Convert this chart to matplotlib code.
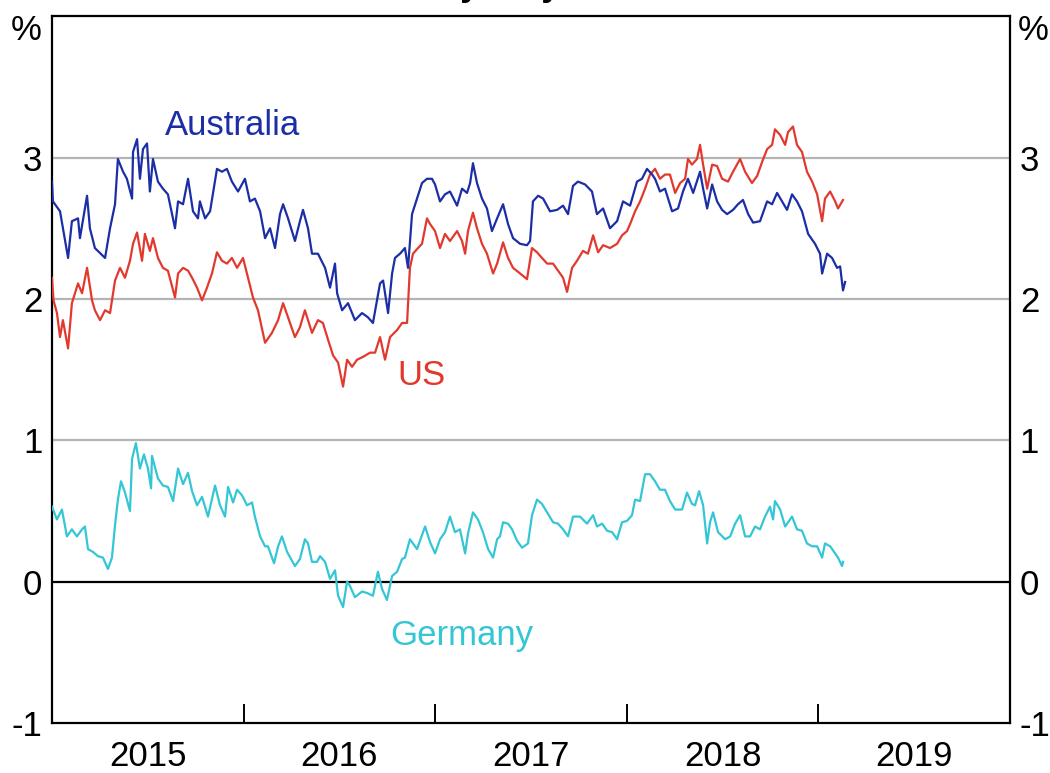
import matplotlib
matplotlib.use("Agg")
import matplotlib.pyplot as plt
from matplotlib.ticker import FixedLocator, NullFormatter

plt.rcParams['font.family'] = ['Liberation Sans', 'DejaVu Sans']

# dates as decimal years, yields in per cent
aus_t = [2015.000, 2015.005, 2015.042, 2015.084, 2015.104, 2015.136, 2015.146, 2015.183, 2015.198,
         2015.224, 2015.277, 2015.303, 2015.329, 2015.344, 2015.371, 2015.391, 2015.418, 2015.423,
         2015.444, 2015.459, 2015.475, 2015.496, 2015.511, 2015.527, 2015.553, 2015.579, 2015.605,
         2015.642, 2015.658, 2015.684, 2015.710, 2015.736, 2015.762, 2015.772, 2015.799, 2015.825,
         2015.861, 2015.887, 2015.913, 2015.939, 2015.971, 2016.007, 2016.033, 2016.059, 2016.086,
         2016.112, 2016.138, 2016.164, 2016.190, 2016.206, 2016.232, 2016.268, 2016.294, 2016.310,
         2016.336, 2016.357, 2016.388, 2016.425, 2016.451, 2016.477, 2016.488, 2016.514, 2016.545,
         2016.581, 2016.618, 2016.649, 2016.675, 2016.712, 2016.728, 2016.754, 2016.775, 2016.790,
         2016.816, 2016.842, 2016.858, 2016.879, 2016.905, 2016.931, 2016.957, 2016.983, 2016.999,
         2017.025, 2017.051, 2017.077, 2017.114, 2017.140, 2017.166, 2017.182, 2017.197, 2017.218,
         2017.244, 2017.270, 2017.296, 2017.323, 2017.354, 2017.380, 2017.406, 2017.443, 2017.479,
         2017.495, 2017.510, 2017.537, 2017.563, 2017.599, 2017.636, 2017.667, 2017.693, 2017.719,
         2017.745, 2017.782, 2017.818, 2017.844, 2017.876, 2017.912, 2017.949, 2017.980, 2018.017,
         2018.053, 2018.079, 2018.105, 2018.132, 2018.147, 2018.173, 2018.199, 2018.236, 2018.267,
         2018.293, 2018.319, 2018.346, 2018.382, 2018.398, 2018.419, 2018.445, 2018.471, 2018.497,
         2018.523, 2018.554, 2018.580, 2018.606, 2018.633, 2018.659, 2018.695, 2018.732, 2018.758,
         2018.784, 2018.810, 2018.836, 2018.862, 2018.888, 2018.914, 2018.946, 2018.982, 2019.008,
         2019.019, 2019.045, 2019.071, 2019.097, 2019.113, 2019.128, 2019.139]
aus_y = [2.83, 2.69, 2.62, 2.29, 2.55, 2.57, 2.43, 2.73, 2.50,
         2.36, 2.29, 2.50, 2.67, 2.99, 2.90, 2.85, 2.71, 3.04,
         3.13, 2.85, 3.06, 3.10, 2.76, 2.99, 2.83, 2.78, 2.74,
         2.50, 2.69, 2.67, 2.85, 2.62, 2.57, 2.69, 2.57, 2.62,
         2.92, 2.90, 2.92, 2.83, 2.76, 2.85, 2.69, 2.71, 2.62,
         2.43, 2.50, 2.36, 2.60, 2.67, 2.57, 2.41, 2.55, 2.63,
         2.50, 2.32, 2.32, 2.22, 2.08, 2.25, 2.04, 1.92, 1.97,
         1.85, 1.90, 1.87, 1.83, 2.11, 2.13, 1.90, 2.18, 2.29,
         2.32, 2.36, 2.22, 2.60, 2.71, 2.82, 2.85, 2.85, 2.81,
         2.69, 2.74, 2.76, 2.66, 2.78, 2.75, 2.82, 2.96, 2.82,
         2.71, 2.64, 2.48, 2.57, 2.67, 2.53, 2.43, 2.39, 2.38,
         2.41, 2.69, 2.73, 2.71, 2.62, 2.63, 2.66, 2.60, 2.80,
         2.83, 2.81, 2.76, 2.60, 2.64, 2.50, 2.55, 2.69, 2.66,
         2.83, 2.85, 2.92, 2.88, 2.85, 2.76, 2.78, 2.62, 2.64,
         2.76, 2.85, 2.75, 2.90, 2.78, 2.64, 2.81, 2.69, 2.63,
         2.60, 2.63, 2.67, 2.70, 2.60, 2.54, 2.55, 2.69, 2.67,
         2.75, 2.69, 2.63, 2.74, 2.69, 2.62, 2.46, 2.39, 2.32,
         2.18, 2.32, 2.29, 2.22, 2.23, 2.06, 2.12]

us_t = [2015.000, 2015.008, 2015.026, 2015.042, 2015.057, 2015.084, 2015.104, 2015.136, 2015.157,
        2015.183, 2015.209, 2015.224, 2015.251, 2015.277, 2015.303, 2015.329, 2015.355, 2015.381,
        2015.407, 2015.423, 2015.444, 2015.470, 2015.485, 2015.511, 2015.527, 2015.553, 2015.579,
        2015.605, 2015.642, 2015.658, 2015.684, 2015.710, 2015.731, 2015.757, 2015.783, 2015.809,
        2015.835, 2015.861, 2015.887, 2015.913, 2015.939, 2015.966, 2015.997, 2016.023, 2016.049,
        2016.075, 2016.112, 2016.148, 2016.180, 2016.206, 2016.232, 2016.268, 2016.294, 2016.320,
        2016.357, 2016.388, 2016.414, 2016.441, 2016.467, 2016.493, 2016.519, 2016.540, 2016.566,
        2016.592, 2016.623, 2016.660, 2016.686, 2016.712, 2016.738, 2016.764, 2016.801, 2016.827,
        2016.853, 2016.868, 2016.884, 2016.910, 2016.931, 2016.957, 2016.973, 2016.999, 2017.025,
        2017.051, 2017.077, 2017.114, 2017.140, 2017.156, 2017.171, 2017.197, 2017.218, 2017.244,
        2017.270, 2017.302, 2017.323, 2017.354, 2017.380, 2017.406, 2017.443, 2017.479, 2017.505,
        2017.531, 2017.557, 2017.584, 2017.615, 2017.641, 2017.667, 2017.688, 2017.714, 2017.740,
        2017.771, 2017.797, 2017.824, 2017.850, 2017.876, 2017.912, 2017.949, 2017.975, 2018.001,
        2018.017, 2018.043, 2018.069, 2018.095, 2018.121, 2018.147, 2018.173, 2018.199, 2018.225,
        2018.252, 2018.278, 2018.304, 2018.319, 2018.340, 2018.366, 2018.382, 2018.398, 2018.419,
        2018.445, 2018.471, 2018.497, 2018.528, 2018.554, 2018.591, 2018.617, 2018.653, 2018.680,
        2018.706, 2018.732, 2018.758, 2018.773, 2018.800, 2018.826, 2018.841, 2018.867, 2018.888,
        2018.914, 2018.940, 2018.967, 2018.993, 2019.019, 2019.034, 2019.061, 2019.087, 2019.102,
        2019.128]
us_y = [2.15, 1.99, 1.90, 1.73, 1.85, 1.65, 1.97, 2.11, 2.04,
        2.22, 1.99, 1.92, 1.85, 1.92, 1.90, 2.13, 2.22, 2.15,
        2.27, 2.39, 2.47, 2.27, 2.46, 2.34, 2.43, 2.29, 2.22,
        2.20, 2.01, 2.18, 2.22, 2.20, 2.15, 2.08, 1.99, 2.08,
        2.18, 2.33, 2.27, 2.25, 2.29, 2.22, 2.29, 2.15, 2.01,
        1.92, 1.69, 1.76, 1.85, 1.97, 1.87, 1.73, 1.80, 1.92,
        1.76, 1.85, 1.83, 1.71, 1.60, 1.55, 1.38, 1.57, 1.52,
        1.57, 1.59, 1.62, 1.62, 1.73, 1.57, 1.73, 1.78, 1.83,
        1.83, 2.22, 2.32, 2.36, 2.39, 2.57, 2.53, 2.48, 2.36,
        2.46, 2.41, 2.48, 2.41, 2.32, 2.48, 2.61, 2.50, 2.39,
        2.32, 2.18, 2.25, 2.40, 2.29, 2.22, 2.18, 2.14, 2.36,
        2.33, 2.29, 2.25, 2.25, 2.20, 2.15, 2.05, 2.22, 2.27,
        2.34, 2.32, 2.45, 2.33, 2.38, 2.36, 2.39, 2.45, 2.48,
        2.53, 2.62, 2.69, 2.78, 2.88, 2.92, 2.85, 2.88, 2.88,
        2.75, 2.82, 2.85, 2.99, 2.95, 2.99, 3.09, 2.95, 2.78,
        2.95, 2.94, 2.85, 2.83, 2.90, 2.99, 2.90, 2.82, 2.87,
        2.97, 3.06, 3.09, 3.20, 3.16, 3.09, 3.18, 3.22, 3.09,
        3.04, 2.90, 2.83, 2.74, 2.55, 2.71, 2.76, 2.69, 2.64,
        2.70]

ger_t = [2015.000, 2015.026, 2015.052, 2015.078, 2015.104, 2015.130, 2015.157, 2015.172, 2015.188,
         2015.214, 2015.240, 2015.266, 2015.292, 2015.313, 2015.329, 2015.344, 2015.360, 2015.381,
         2015.407, 2015.418, 2015.438, 2015.459, 2015.480, 2015.501, 2015.517, 2015.522, 2015.553,
         2015.579, 2015.605, 2015.632, 2015.658, 2015.684, 2015.710, 2015.731, 2015.757, 2015.783,
         2015.814, 2015.851, 2015.877, 2015.903, 2015.919, 2015.945, 2015.966, 2015.992, 2016.018,
         2016.044, 2016.059, 2016.086, 2016.112, 2016.127, 2016.159, 2016.180, 2016.200, 2016.227,
         2016.268, 2016.294, 2016.320, 2016.336, 2016.357, 2016.383, 2016.399, 2016.425, 2016.451,
         2016.477, 2016.493, 2016.519, 2016.540, 2016.555, 2016.581, 2016.618, 2016.644, 2016.675,
         2016.701, 2016.722, 2016.748, 2016.775, 2016.801, 2016.827, 2016.842, 2016.868, 2016.905,
         2016.947, 2016.973, 2016.999, 2017.025, 2017.051, 2017.077, 2017.103, 2017.129, 2017.156,
         2017.171, 2017.197, 2017.223, 2017.249, 2017.276, 2017.302, 2017.323, 2017.338, 2017.354,
         2017.380, 2017.401, 2017.427, 2017.453, 2017.484, 2017.505, 2017.531, 2017.557, 2017.584,
         2017.615, 2017.641, 2017.667, 2017.693, 2017.719, 2017.756, 2017.792, 2017.824, 2017.844,
         2017.871, 2017.897, 2017.923, 2017.949, 2017.975, 2018.001, 2018.027, 2018.043, 2018.069,
         2018.095, 2018.121, 2018.147, 2018.173, 2018.199, 2018.225, 2018.252, 2018.288, 2018.314,
         2018.340, 2018.356, 2018.377, 2018.398, 2018.419, 2018.434, 2018.450, 2018.476, 2018.513,
         2018.539, 2018.565, 2018.591, 2018.617, 2018.643, 2018.669, 2018.695, 2018.721, 2018.747,
         2018.763, 2018.773, 2018.800, 2018.826, 2018.862, 2018.888, 2018.914, 2018.940, 2018.967,
         2018.993, 2019.019, 2019.034, 2019.061, 2019.087, 2019.102, 2019.123, 2019.128]
ger_y = [0.53, 0.44, 0.51, 0.32, 0.37, 0.32, 0.37, 0.39, 0.23,
         0.21, 0.18, 0.17, 0.09, 0.17, 0.40, 0.58, 0.71, 0.63,
         0.50, 0.87, 0.98, 0.80, 0.90, 0.80, 0.66, 0.89, 0.73,
         0.68, 0.67, 0.57, 0.80, 0.69, 0.77, 0.64, 0.54, 0.60,
         0.46, 0.68, 0.54, 0.46, 0.67, 0.56, 0.65, 0.61, 0.54,
         0.56, 0.46, 0.32, 0.25, 0.25, 0.13, 0.25, 0.32, 0.21,
         0.11, 0.16, 0.30, 0.27, 0.14, 0.14, 0.18, 0.14, 0.02,
         0.08, -0.10, -0.18, 0.00, -0.03, -0.11, -0.07, -0.08, -0.10,
         0.07, -0.05, -0.13, 0.04, 0.07, 0.16, 0.17, 0.30, 0.23,
         0.39, 0.28, 0.20, 0.30, 0.35, 0.46, 0.35, 0.37, 0.20,
         0.34, 0.49, 0.44, 0.35, 0.23, 0.17, 0.30, 0.32, 0.42,
         0.41, 0.37, 0.29, 0.24, 0.27, 0.47, 0.58, 0.55, 0.49,
         0.42, 0.41, 0.37, 0.32, 0.46, 0.46, 0.41, 0.47, 0.39,
         0.41, 0.36, 0.35, 0.30, 0.42, 0.43, 0.47, 0.58, 0.57,
         0.76, 0.76, 0.71, 0.65, 0.65, 0.57, 0.51, 0.51, 0.63,
         0.55, 0.54, 0.64, 0.54, 0.27, 0.42, 0.49, 0.35, 0.30,
         0.32, 0.41, 0.47, 0.32, 0.32, 0.39, 0.37, 0.46, 0.53,
         0.44, 0.57, 0.51, 0.39, 0.46, 0.37, 0.36, 0.27, 0.25,
         0.25, 0.17, 0.27, 0.25, 0.20, 0.17, 0.11, 0.14]

years = [2015, 2016, 2017, 2018, 2019]
ytick_vals = [-1, 0, 1, 2, 3]

AUS_COL = '#1b2ea6'
US_COL = '#e2392f'
GER_COL = '#35c6d6'
FS = 25

fig = plt.figure(figsize=(10.5, 7.73), dpi=100)
ax = fig.add_axes([0.0495, 0.0647, 0.9125, 0.9143])

ax.set_xlim(2015, 2020)
ax.set_ylim(-1, 4)

for v in [1, 2, 3]:
    ax.axhline(v, color='#b4b4b4', lw=1.6, zorder=1)
ax.axhline(0, color='black', lw=1.6, zorder=1)

ax.plot(ger_t, ger_y, color=GER_COL, lw=1.6, zorder=3)
ax.plot(us_t, us_y, color=US_COL, lw=1.6, zorder=3)
ax.plot(aus_t, aus_y, color=AUS_COL, lw=1.6, zorder=4)

ax.text(2015.94, 3.23, 'Australia', color=AUS_COL, fontsize=FS, ha='center', va='center')
ax.text(2016.93, 1.46, 'US', color=US_COL, fontsize=FS, ha='center', va='center')
ax.text(2017.14, -0.38, 'Germany', color=GER_COL, fontsize=FS, ha='center', va='center')

# x axis: tick marks at year boundaries, labels centred in each year
ax.xaxis.set_major_locator(FixedLocator([y + 1 for y in years[:-1]]))
ax.xaxis.set_major_formatter(NullFormatter())
ax.xaxis.set_minor_locator(FixedLocator([y + 0.5 for y in years]))
ax.set_xticklabels([str(y) for y in years], minor=True)
ax.tick_params(axis='x', which='major', direction='in', length=14, width=1.4, color='black')
ax.tick_params(axis='x', which='minor', length=0, labelsize=FS, pad=12)

ax.set_yticks(ytick_vals)
ax.set_yticklabels([str(v) for v in ytick_vals])
ax.tick_params(axis='y', length=0, labelsize=FS, pad=7, labelleft=True, labelright=True)

for s in ax.spines.values():
    s.set_linewidth(1.6)
    s.set_color('black')

ax.text(-0.0105, 0.98, '%', transform=ax.transAxes, fontsize=FS, ha='right', va='center')
ax.text(1.008, 0.98, '%', transform=ax.transAxes, fontsize=FS, ha='left', va='center')

# title sits above the cropped frame; only the descenders show
fig.text(0.5, 1.0 + 4 / 773, '10-year yields', fontsize=FS, fontweight='bold',
         ha='center', va='baseline')

fig.savefig('out.png', dpi=100)
